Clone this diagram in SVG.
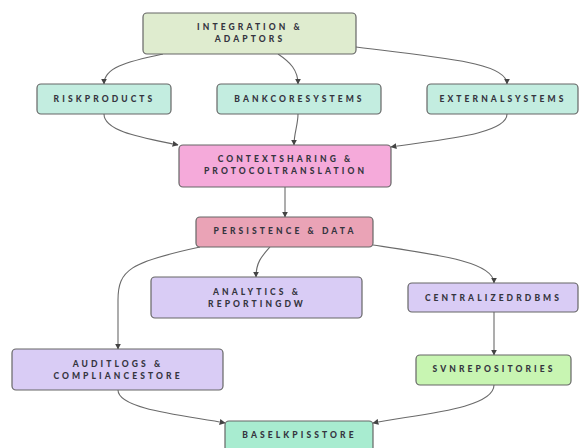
<svg xmlns="http://www.w3.org/2000/svg" width="579" height="448" viewBox="0 0 579 448">
<defs>
<marker id="arr" viewBox="0 0 10 10" refX="9" refY="5" markerWidth="6" markerHeight="6" orient="auto-start-reverse" markerUnits="userSpaceOnUse">
<path d="M0,0 L10,5 L0,10 z" fill="#444"/>
</marker>
<style>
.box{stroke:#666;stroke-width:1.2}
.t{font-family:Lato,"Open Sans","DejaVu Sans",sans-serif;font-weight:900;font-size:8.5px;letter-spacing:3.1px;fill:#35353f;text-anchor:middle}
.e{fill:none;stroke:#6a6a6a;stroke-width:1.1;marker-end:url(#arr)}
</style>
</defs>
<rect width="579" height="448" fill="#fff"/>
<g id="connectors">
<path class="e" d="M163,54 C125,62 104,68 104,84"/>
<path class="e" d="M278,54 C290,62 298,70 298,84"/>
<path class="e" d="M356,47 C440,58 507,62 507,84"/>
<path class="e" d="M104,114 C104,132 145,138 178,145"/>
<path class="e" d="M298,114 C298,125 294,133 294,145"/>
<path class="e" d="M507,114 C507,135 435,140 391,147"/>
<path class="e" d="M285,187 L285,217"/>
<path class="e" d="M200,247 C130,262 118,270 118,300 L118,349"/>
<path class="e" d="M270,247 C262,256 256,262 256,277"/>
<path class="e" d="M373,245 C440,255 494,262 494,283"/>
<path class="e" d="M494,312 L494,355"/>
<path class="e" d="M118,390 C118,410 190,416 225,423"/>
<path class="e" d="M494,385 C494,410 410,415 373,423"/>
</g>
<g id="integration">
<rect class="box" x="143" y="13" width="213" height="41" rx="4" fill="#dfeccf"/>
<text class="t" x="250" y="30">INTEGRATION &amp;</text>
<text class="t" x="250" y="42">ADAPTORS</text>
</g>
<g id="riskproducts">
<rect class="box" x="37" y="84" width="134" height="30" rx="4" fill="#c3ede0"/>
<text class="t" x="104.5" y="102">RISKPRODUCTS</text>
</g>
<g id="bankcoresystems">
<rect class="box" x="217" y="84" width="164" height="30" rx="4" fill="#c3ede0"/>
<text class="t" x="299.5" y="102">BANKCORESYSTEMS</text>
</g>
<g id="externalsystems">
<rect class="box" x="427" y="84" width="151" height="30" rx="4" fill="#c3ede0"/>
<text class="t" x="503" y="102">EXTERNALSYSTEMS</text>
</g>
<g id="contextsharing">
<rect class="box" x="179" y="145" width="212" height="42" rx="4" fill="#f5aada"/>
<text class="t" x="285.5" y="162">CONTEXTSHARING &amp;</text>
<text class="t" x="285.5" y="174">PROTOCOLTRANSLATION</text>
</g>
<g id="persistence">
<rect class="box" x="196" y="217" width="177" height="30" rx="4" fill="#eaa3b6"/>
<text class="t" x="285" y="234">PERSISTENCE &amp; DATA</text>
</g>
<g id="analytics">
<rect class="box" x="151" y="277" width="211" height="41" rx="4" fill="#d9ccf5"/>
<text class="t" x="257" y="295">ANALYTICS &amp;</text>
<text class="t" x="257" y="307">REPORTINGDW</text>
</g>
<g id="centralizedrdbms">
<rect class="box" x="408" y="283" width="170" height="29" rx="4" fill="#d9ccf5"/>
<text class="t" x="493.5" y="301">CENTRALIZEDRDBMS</text>
</g>
<g id="auditlogs">
<rect class="box" x="12" y="349" width="211" height="41" rx="4" fill="#d9ccf5"/>
<text class="t" x="118" y="367">AUDITLOGS &amp;</text>
<text class="t" x="118" y="379">COMPLIANCESTORE</text>
</g>
<g id="svnrepositories">
<rect class="box" x="416" y="355" width="155" height="30" rx="4" fill="#c8f5b2"/>
<text class="t" x="494" y="372">SVNREPOSITORIES</text>
</g>
<g id="baselkpistore">
<rect class="box" x="225" y="421" width="148" height="34" rx="4" fill="#a8ecd0"/>
<text class="t" x="299.5" y="438">BASELKPISSTORE</text>
</g>
</svg>
